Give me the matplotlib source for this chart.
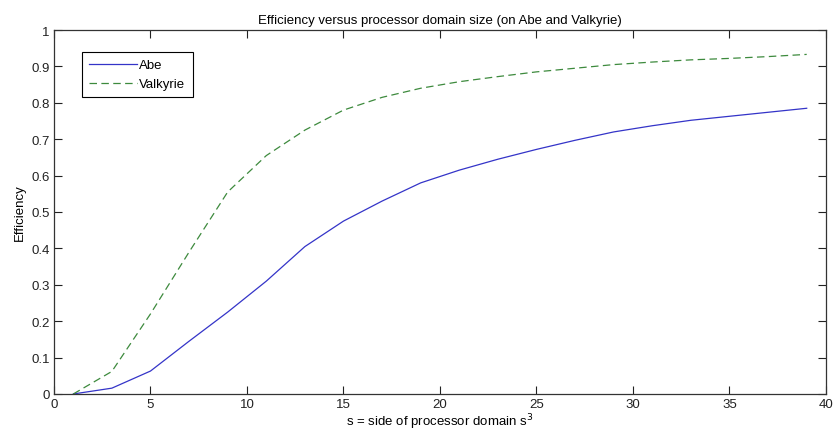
import matplotlib
matplotlib.use('Agg')
import matplotlib.pyplot as plt
from matplotlib.ticker import FormatStrFormatter

# domain side s (odd values)
s = [1, 3, 5, 7, 9, 11, 13, 15, 17, 19, 21, 23, 25, 27, 29, 31, 33, 35, 37, 39]

abe = [0.0, 0.016, 0.063, 0.145, 0.225, 0.31, 0.405, 0.475, 0.53, 0.58,
       0.615, 0.645, 0.672, 0.697, 0.72, 0.737, 0.752, 0.763, 0.774, 0.785]
valkyrie = [0.0, 0.062, 0.22, 0.39, 0.555, 0.655, 0.725, 0.78, 0.815, 0.84,
            0.858, 0.872, 0.885, 0.895, 0.905, 0.912, 0.918, 0.922, 0.927, 0.933]

xticks = [0, 5, 10, 15, 20, 25, 30, 35, 40]
yticks = [0, 0.1, 0.2, 0.3, 0.4, 0.5, 0.6, 0.7, 0.8, 0.9, 1]

plt.rcParams['font.family'] = ['Liberation Sans', 'DejaVu Sans']
plt.rcParams['font.size'] = 9.5

fig = plt.figure(figsize=(8.33, 4.35), dpi=100)
ax = fig.add_axes([0.0648, 0.092, 0.9268, 0.8367])

ax.plot(s, abe, color='#3434c8', linewidth=0.9, label='Abe')
ax.plot(s, valkyrie, color='#3d8a3d', linewidth=0.9, linestyle=(0, (6, 3.5)),
        label='Valkyrie')

ax.set_xlim(0, 40)
ax.set_ylim(0, 1)
ax.set_xticks(xticks)
ax.set_yticks(yticks)
ax.yaxis.set_major_formatter(FormatStrFormatter('%g'))
ax.tick_params(direction='in', length=5.5, width=0.8, top=True, right=True,
               labelsize=9.5, colors='#222222', pad=3)
for sp in ax.spines.values():
    sp.set_linewidth(0.9)
    sp.set_color('#333333')

ax.set_title('Efficiency versus processor domain size (on Abe and Valkyrie)',
             fontsize=9.5, pad=5)
ax.set_xlabel('s = side of processor domain s$^3$', fontsize=9.5, labelpad=1)
ax.set_ylabel('Efficiency', fontsize=9.5, labelpad=4)

leg = ax.legend(loc='upper left', bbox_to_anchor=(0.036, 0.94), fancybox=False,
                edgecolor='black', framealpha=1, fontsize=9.5,
                handlelength=3.6, handletextpad=0.2, borderpad=0.55,
                labelspacing=0.5, borderaxespad=0)
leg.get_frame().set_linewidth(0.8)

plt.savefig('out.png', dpi=100)
plt.close()
